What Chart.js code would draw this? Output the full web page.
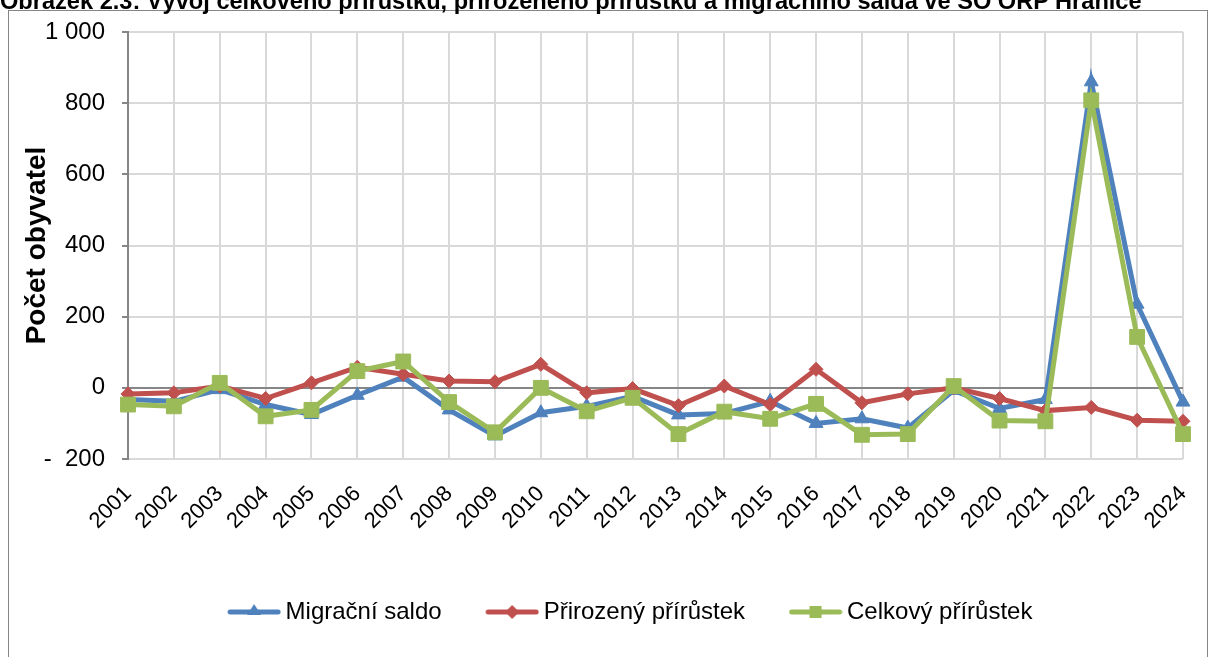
<!DOCTYPE html>
<html><head><meta charset="utf-8">
<script src="https://cdn.jsdelivr.net/npm/chart.js@4"></script>
<style>
html,body{margin:0;padding:0;background:#fff;}
#wrap{position:relative;width:1211px;height:657px;overflow:hidden;}
#title{position:absolute;left:0;top:-11px;font:bold 23.6px "Liberation Sans",Arial,sans-serif;line-height:24px;white-space:nowrap;color:#000;}
canvas{position:absolute;left:0;top:0;}
</style></head><body>
<div id="wrap"><canvas id="c" width="1211" height="657"></canvas><div id="title">Obrázek 2.3: Vývoj celkového přírůstku, přirozeného přírůstku a migračního salda ve SO ORP Hranice</div></div>
<script>
const years = ['2001','2002','2003','2004','2005','2006','2007','2008','2009','2010','2011','2012','2013','2014','2015','2016','2017','2018','2019','2020','2021','2022','2023','2024'];
const migracniSaldo = [-33,-38,-5,-47,-75,-21,30,-62,-135,-70,-52,-24,-76,-72,-38,-100,-87,-113,-7,-58,-33,860,235,-40];
const prirozenyPrirustek = [-17,-14,5,-30,14,58,38,19,17,66,-14,-2,-50,5,-47,52,-42,-17,0,-30,-64,-55,-91,-94];
const celkovyPrirustek = [-47,-52,14,-80,-62,47,74,-40,-125,0,-66,-28,-130,-67,-87,-45,-132,-130,5,-92,-94,808,143,-130];
const seriesNames = ['Migrační saldo','Přirozený přírůstek','Celkový přírůstek'];
const yMin = -200, yMax = 1000, yStep = 200;

const FONT = '"Liberation Sans", Arial, sans-serif';
const BLUE = '#4F81BD', RED = '#C0504D', GREEN = '#9BBB59';

function legendIcon(color, shape){
  const c = document.createElement('canvas'); c.width = 54; c.height = 22;
  const g = c.getContext('2d');
  g.strokeStyle = color; g.lineWidth = 5; g.lineCap = 'round';
  g.beginPath(); g.moveTo(3,11); g.lineTo(51,11); g.stroke();
  g.fillStyle = color; g.beginPath();
  if (shape === 'triangle') { g.moveTo(27,3); g.lineTo(34,14); g.lineTo(20,14); }
  else if (shape === 'diamond') { g.moveTo(27,4); g.lineTo(34,11); g.lineTo(27,18); g.lineTo(20,11); }
  else { g.rect(21,5,12,12); }
  g.closePath(); g.fill();
  return c;
}
const icons = [legendIcon(BLUE,'triangle'), legendIcon(RED,'diamond'), legendIcon(GREEN,'square')];

const framePlugin = {
  id: 'frame',
  beforeDraw(chart){
    const ctx = chart.ctx; ctx.save();
    ctx.strokeStyle = '#868686'; ctx.lineWidth = 1;
    ctx.strokeRect(8.5, 10.5, 1199, 700);
    ctx.restore();
  }
};
const shiftLegend = {
  id: 'shiftLegend',
  afterLayout(chart){ const l = chart.legend; if (l) { l.left += 36; l.right += 36; } }
};

function fmt(v){
  if (v === 0) return '0';
  const a = Math.abs(v);
  const s = a >= 1000 ? Math.floor(a/1000) + ' ' + String(a % 1000).padStart(3,'0') : String(a);
  return v < 0 ? '-  ' + s : s;
}

new Chart(document.getElementById('c'), {
  type: 'line',
  data: {
    labels: years,
    datasets: [
      { label: seriesNames[0], data: migracniSaldo, borderColor: BLUE, backgroundColor: BLUE, borderWidth: 5,
        pointStyle: 'triangle', pointRadius: 8, pointBorderWidth: 1, pointBackgroundColor: BLUE, pointBorderColor: BLUE, tension: 0, order: 2 },
      { label: seriesNames[1], data: prirozenyPrirustek, borderColor: RED, backgroundColor: RED, borderWidth: 5,
        pointStyle: 'rectRot', pointRadius: 7, pointBorderWidth: 1, pointBackgroundColor: RED, pointBorderColor: RED, tension: 0, order: 1 },
      { label: seriesNames[2], data: celkovyPrirustek, borderColor: GREEN, backgroundColor: GREEN, borderWidth: 5,
        pointStyle: 'rect', pointRadius: 10.5, pointBorderWidth: 1, pointBackgroundColor: GREEN, pointBorderColor: GREEN, tension: 0, order: 0 }
    ]
  },
  options: {
    responsive: false,
    animation: false,
    devicePixelRatio: 1,
    layout: { padding: { left: 12, right: 28, top: 32, bottom: 23 } },
    plugins: {
      title: { display: false },
      tooltip: { enabled: false },
      legend: {
        position: 'bottom',
        labels: {
          usePointStyle: true, pointStyleWidth: 39, boxHeight: 24,
          padding: 51, color: '#000',
          font: { size: 24, family: FONT },
          generateLabels(chart){
            return chart.data.datasets.map((ds, i) => ({
              text: ds.label, fillStyle: ds.borderColor, strokeStyle: ds.borderColor, lineWidth: 0,
              pointStyle: icons[i], hidden: false, datasetIndex: i, fontColor: '#000'
            }));
          }
        }
      }
    },
    scales: {
      x: {
        offset: false,
        grid: { color: '#D9D9D9', lineWidth: 2, drawTicks: false },
        border: { display: false },
        ticks: { autoSkip: false, maxRotation: 45, minRotation: 45, padding: 22, color: '#000', font: { size: 22, family: FONT } },
        afterFit(s){ s.height = 90; s.paddingRight = 0; s.paddingLeft = 0; }
      },
      y: {
        min: yMin, max: yMax,
        ticks: { stepSize: yStep, callback: v => fmt(v), color: '#000', padding: 17, font: { size: 24, family: FONT } },
        grid: { color: c => (c.tick && c.tick.value === 0) ? '#868686' : '#D9D9D9', lineWidth: 2, tickLength: 6, tickColor: '#868686' },
        border: { color: '#868686', width: 2 },
        title: { display: true, text: 'Počet obyvatel', color: '#000', font: { size: 28, weight: 'bold', family: FONT }, padding: { top: 8, bottom: 0 } },
        afterFit(s){ s.width = 116; }
      }
    }
  },
  plugins: [framePlugin, shiftLegend]
});
</script>
</body></html>
